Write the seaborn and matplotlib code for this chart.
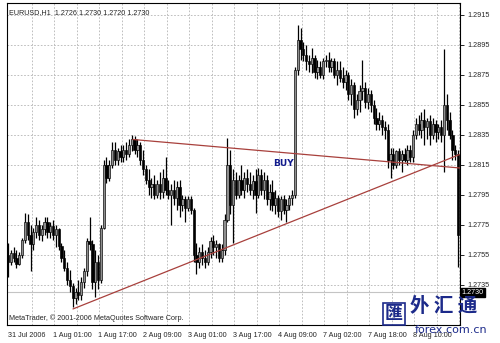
import matplotlib
matplotlib.use('Agg')
import matplotlib.pyplot as plt
import seaborn as sns
import pandas as pd
import numpy as np

# ---------------- data ----------------
time_labels = ["31 Jul 2006", "1 Aug 01:00", "1 Aug 17:00", "2 Aug 09:00", "3 Aug 01:00",
               "3 Aug 17:00", "4 Aug 09:00", "7 Aug 02:00", "7 Aug 18:00", "8 Aug 10:00"]
label_bars = [0, 16, 32, 48, 64, 80, 96, 112, 128, 144]

opens = [1.2755, 1.2750, 1.2756, 1.2753, 1.2749, 1.2755, 1.2765, 1.2777, 1.2768, 1.2762,
         1.2770, 1.2775, 1.2768, 1.2772, 1.2777, 1.2770, 1.2774, 1.2768, 1.2772, 1.2761,
         1.2753, 1.2746, 1.2738, 1.2734, 1.2726, 1.2730, 1.2728, 1.2737, 1.2744, 1.2764,
         1.2762, 1.2737, 1.2750, 1.2738, 1.2773, 1.2815, 1.2806, 1.2815, 1.2825, 1.2818,
         1.2824, 1.2820, 1.2825, 1.2822, 1.2828, 1.2832, 1.2825, 1.2828, 1.2818, 1.2812,
         1.2805, 1.2800, 1.2802, 1.2795, 1.2802, 1.2797, 1.2806, 1.2798, 1.2795, 1.2798,
         1.2793, 1.2800, 1.2788, 1.2792, 1.2786, 1.2792, 1.2785, 1.2755, 1.2750, 1.2757,
         1.2753, 1.2750, 1.2757, 1.2764, 1.2760, 1.2762, 1.2753, 1.2758, 1.2778, 1.2815,
         1.2788, 1.2805, 1.2795, 1.2805, 1.2798, 1.2806, 1.2802, 1.2798, 1.2804, 1.2795,
         1.2808, 1.2798, 1.2805, 1.2792, 1.2797, 1.2788, 1.2793, 1.2784, 1.2792, 1.2785,
         1.2788, 1.2793, 1.2795, 1.2878, 1.2898, 1.2892, 1.2888, 1.2884, 1.2882, 1.2886,
         1.2877, 1.2880, 1.2875, 1.2884, 1.2885, 1.2880, 1.2884, 1.2875, 1.2878, 1.2873,
         1.2870, 1.2875, 1.2862, 1.2868, 1.2852, 1.2858, 1.2864, 1.2866, 1.2857, 1.2862,
         1.2855, 1.2846, 1.2842, 1.2845, 1.2840, 1.2838, 1.2818, 1.2822, 1.2815, 1.2824,
         1.2818, 1.2822, 1.2818, 1.2825, 1.2820, 1.2835, 1.2842, 1.2838, 1.2845, 1.2840,
         1.2844, 1.2835, 1.2842, 1.2837, 1.2840, 1.2835, 1.2855, 1.2845, 1.2835, 1.2825,
         1.2822]
highs = [1.2763, 1.2758, 1.2760, 1.2758, 1.2757, 1.2766, 1.2783, 1.2782, 1.2775, 1.2773,
         1.2780, 1.2778, 1.2775, 1.2780, 1.2780, 1.2777, 1.2778, 1.2775, 1.2773, 1.2763,
         1.2758, 1.2750, 1.2745, 1.2736, 1.2733, 1.2738, 1.2740, 1.2746, 1.2766, 1.2780,
         1.2765, 1.2758, 1.2755, 1.2775, 1.2818, 1.2820, 1.2818, 1.2830, 1.2830, 1.2826,
         1.2828, 1.2828, 1.2830, 1.2832, 1.2835, 1.2834, 1.2832, 1.2830, 1.2825, 1.2815,
         1.2812, 1.2806, 1.2808, 1.2805, 1.2810, 1.2812, 1.2820, 1.2805, 1.2802, 1.2805,
         1.2804, 1.2805, 1.2795, 1.2794, 1.2794, 1.2794, 1.2786, 1.2763, 1.2760, 1.2762,
         1.2758, 1.2760, 1.2767, 1.2768, 1.2765, 1.2763, 1.2762, 1.2782, 1.2833, 1.2825,
         1.2812, 1.2810, 1.2808, 1.2815, 1.2810, 1.2812, 1.2810, 1.2808, 1.2812, 1.2813,
         1.2812, 1.2810, 1.2808, 1.2802, 1.2805, 1.2798, 1.2795, 1.2794, 1.2795, 1.2792,
         1.2795, 1.2798, 1.2880, 1.2908, 1.2906, 1.2897, 1.2895, 1.2888, 1.2893, 1.2888,
         1.2885, 1.2884, 1.2886, 1.2888, 1.2890, 1.2886, 1.2886, 1.2884, 1.2884, 1.2880,
         1.2878, 1.2877, 1.2872, 1.2870, 1.2862, 1.2868, 1.2885, 1.2870, 1.2866, 1.2865,
         1.2858, 1.2853, 1.2850, 1.2848, 1.2844, 1.2842, 1.2826, 1.2826, 1.2825, 1.2826,
         1.2825, 1.2826, 1.2828, 1.2828, 1.2838, 1.2846, 1.2848, 1.2850, 1.2852, 1.2846,
         1.2848, 1.2846, 1.2845, 1.2842, 1.2845, 1.2892, 1.2862, 1.2850, 1.2838, 1.2828,
         1.2825]
lows = [1.2740, 1.2748, 1.2750, 1.2746, 1.2748, 1.2753, 1.2763, 1.2765, 1.2744, 1.2758,
        1.2766, 1.2765, 1.2764, 1.2768, 1.2766, 1.2766, 1.2765, 1.2760, 1.2758, 1.2750,
        1.2744, 1.2735, 1.2730, 1.2720, 1.2722, 1.2725, 1.2725, 1.2733, 1.2741, 1.2758,
        1.2732, 1.2727, 1.2732, 1.2736, 1.2772, 1.2803, 1.2804, 1.2813, 1.2815, 1.2815,
        1.2817, 1.2817, 1.2818, 1.2820, 1.2824, 1.2822, 1.2820, 1.2815, 1.2808, 1.2802,
        1.2795, 1.2793, 1.2792, 1.2793, 1.2792, 1.2793, 1.2795, 1.2792, 1.2775, 1.2788,
        1.2785, 1.2780, 1.2784, 1.2777, 1.2784, 1.2782, 1.2750, 1.2742, 1.2746, 1.2748,
        1.2746, 1.2748, 1.2753, 1.2755, 1.2753, 1.2750, 1.2750, 1.2755, 1.2777, 1.2782,
        1.2763, 1.2792, 1.2793, 1.2795, 1.2793, 1.2797, 1.2795, 1.2792, 1.2783, 1.2793,
        1.2795, 1.2792, 1.2788, 1.2785, 1.2784, 1.2782, 1.2780, 1.2778, 1.2782, 1.2777,
        1.2785, 1.2788, 1.2793, 1.2875, 1.2885, 1.2884, 1.2878, 1.2877, 1.2876, 1.2873,
        1.2872, 1.2873, 1.2872, 1.2880, 1.2877, 1.2877, 1.2873, 1.2868, 1.2870, 1.2866,
        1.2865, 1.2858, 1.2855, 1.2846, 1.2848, 1.2850, 1.2858, 1.2853, 1.2852, 1.2850,
        1.2842, 1.2838, 1.2838, 1.2835, 1.2832, 1.2813, 1.2806, 1.2812, 1.2813, 1.2815,
        1.2810, 1.2817, 1.2815, 1.2817, 1.2817, 1.2832, 1.2835, 1.2833, 1.2828, 1.2832,
        1.2828, 1.2832, 1.2830, 1.2832, 1.2830, 1.2810, 1.2838, 1.2832, 1.2818, 1.2818,
        1.2747]
closes = [1.2750, 1.2756, 1.2753, 1.2749, 1.2755, 1.2765, 1.2777, 1.2768, 1.2762, 1.2770,
          1.2775, 1.2768, 1.2772, 1.2777, 1.2770, 1.2774, 1.2768, 1.2772, 1.2761, 1.2753,
          1.2746, 1.2738, 1.2734, 1.2726, 1.2730, 1.2728, 1.2737, 1.2744, 1.2764, 1.2762,
          1.2737, 1.2750, 1.2738, 1.2773, 1.2815, 1.2806, 1.2815, 1.2825, 1.2818, 1.2824,
          1.2820, 1.2825, 1.2822, 1.2828, 1.2832, 1.2825, 1.2828, 1.2818, 1.2812, 1.2805,
          1.2800, 1.2802, 1.2795, 1.2802, 1.2797, 1.2806, 1.2798, 1.2795, 1.2798, 1.2793,
          1.2800, 1.2788, 1.2792, 1.2786, 1.2792, 1.2785, 1.2755, 1.2750, 1.2757, 1.2753,
          1.2750, 1.2757, 1.2764, 1.2760, 1.2762, 1.2753, 1.2758, 1.2778, 1.2815, 1.2788,
          1.2805, 1.2795, 1.2805, 1.2798, 1.2806, 1.2802, 1.2798, 1.2804, 1.2795, 1.2808,
          1.2798, 1.2805, 1.2792, 1.2797, 1.2788, 1.2793, 1.2784, 1.2792, 1.2785, 1.2788,
          1.2793, 1.2795, 1.2878, 1.2898, 1.2892, 1.2888, 1.2884, 1.2882, 1.2886, 1.2877,
          1.2880, 1.2875, 1.2884, 1.2885, 1.2880, 1.2884, 1.2875, 1.2878, 1.2873, 1.2870,
          1.2875, 1.2862, 1.2868, 1.2852, 1.2858, 1.2864, 1.2866, 1.2857, 1.2862, 1.2855,
          1.2846, 1.2842, 1.2845, 1.2840, 1.2838, 1.2818, 1.2822, 1.2815, 1.2824, 1.2818,
          1.2822, 1.2818, 1.2825, 1.2820, 1.2835, 1.2842, 1.2838, 1.2845, 1.2840, 1.2844,
          1.2835, 1.2842, 1.2837, 1.2840, 1.2835, 1.2855, 1.2845, 1.2835, 1.2825, 1.2822,
          1.2768]

price_ticks = [1.2735, 1.2755, 1.2775, 1.2795, 1.2815, 1.2835, 1.2855, 1.2875, 1.2895, 1.2915]
upper_line_bars = [44.4, 160.6]
upper_line_prices = [1.2832, 1.2813]
lower_line_bars = [23.1, 160.6]
lower_line_prices = [1.2719, 1.2822]
bid_price = 1.2730
buy_bar, buy_price = 97.8, 1.2816
header = "EURUSD,H1  1.2726 1.2730 1.2720 1.2730"
copyright_text = "MetaTrader, \u00a9 2001-2006 MetaQuotes Software Corp."
watermark_logo = "\u532f"
watermark_cn = "\u5916 \u6c47 \u901a"
watermark_en = "forex.com.cn"

# ---------------- style ----------------
sns.set_style('white')
plt.rcParams['font.family'] = ['Liberation Sans', 'Noto Sans CJK SC', 'DejaVu Sans']

fig = plt.figure(figsize=(5, 3.43), dpi=100)
ax = fig.add_axes([7 / 500, 18 / 343, 453 / 500, 322 / 343])

df = pd.DataFrame(dict(bar=np.arange(len(opens)), o=opens, h=highs, l=lows, c=closes))
df['lo'] = df[['o', 'c']].min(axis=1)
df['hgt'] = (df['c'] - df['o']).abs().clip(lower=0.00006)
up = df['c'] >= df['o']

# grid
for v in price_ticks:
    ax.axhline(v, color='#b4b4b4', ls=(0, (2, 2)), lw=0.6, zorder=0)
for k in range(1, 21):
    ax.axvline(8 * k + 0.5, color='#b4b4b4', ls=(0, (2, 2)), lw=0.6, zorder=0)
ax.axhline(bid_price, color='#c4c4c4', lw=0.8, zorder=0.5)

# candles
ax.vlines(df['bar'], df['l'], df['h'], color='black', lw=0.9, zorder=2)
ax.bar(df['bar'][up], df['hgt'][up], bottom=df['lo'][up], width=0.8,
       color='#8e8e8e', edgecolor='black', linewidth=0.45, zorder=3)
ax.bar(df['bar'][~up], df['hgt'][~up], bottom=df['lo'][~up], width=0.8,
       color='black', edgecolor='black', linewidth=0.45, zorder=3)

# trend lines
sns.lineplot(x=upper_line_bars, y=upper_line_prices, ax=ax, color='#a8403c', lw=0.9,
             estimator=None, sort=False, zorder=4)
sns.lineplot(x=lower_line_bars, y=lower_line_prices, ax=ax, color='#a8403c', lw=0.9,
             estimator=None, sort=False, zorder=4)

ax.set_xlim(-0.36, 160.7)
ax.set_ylim(1.27083, 1.2923)

ax.set_xticks(label_bars)
ax.set_xticklabels(time_labels, ha='left')
ax.yaxis.tick_right()
ax.set_yticks(price_ticks)
ax.set_yticklabels([f'{v:.4f}' for v in price_ticks])
ax.tick_params(axis='x', length=3, width=0.6, pad=2, labelsize=5.2, color='black')
ax.tick_params(axis='y', length=3, width=0.6, pad=2, labelsize=5.2, color='black')
ax.set_xlabel('')
ax.set_ylabel('')
for s in ax.spines.values():
    s.set_color('black')
    s.set_linewidth(0.8)
    s.set_visible(True)

ax.text(buy_bar, buy_price, 'BUY', color='#101a8c', fontsize=6.5, fontweight='bold',
        ha='center', va='center', family='DejaVu Sans', zorder=5)
ax.text(0.004, 0.969, header, transform=ax.transAxes, fontsize=5.2, ha='left', va='center')
ax.text(0.004, 0.022, copyright_text, transform=ax.transAxes, fontsize=5.2, ha='left', va='center')

ax.text(1.004, bid_price, '1.2730', transform=ax.get_yaxis_transform(), fontsize=5.2,
        color='white', ha='left', va='center',
        bbox=dict(boxstyle='square,pad=0.15', facecolor='black', edgecolor='black'))

# watermark
fig.text(0.788, 0.085, watermark_logo, fontsize=13, color='#1c2a8a', fontweight='bold',
         family=['Noto Sans CJK SC'], ha='center', va='center',
         bbox=dict(boxstyle='square,pad=0.1', facecolor='none', edgecolor='#1c2a8a', lw=1.2))
fig.text(0.82, 0.105, watermark_cn, fontsize=14, color='#1c2a8a', fontweight='bold',
         family=['Noto Sans CJK SC'], ha='left', va='center')
fig.text(0.83, 0.038, watermark_en, fontsize=8, color='#1c2a8a', ha='left', va='center',
         family=['DejaVu Sans'])

fig.savefig('out.png', dpi=100)
